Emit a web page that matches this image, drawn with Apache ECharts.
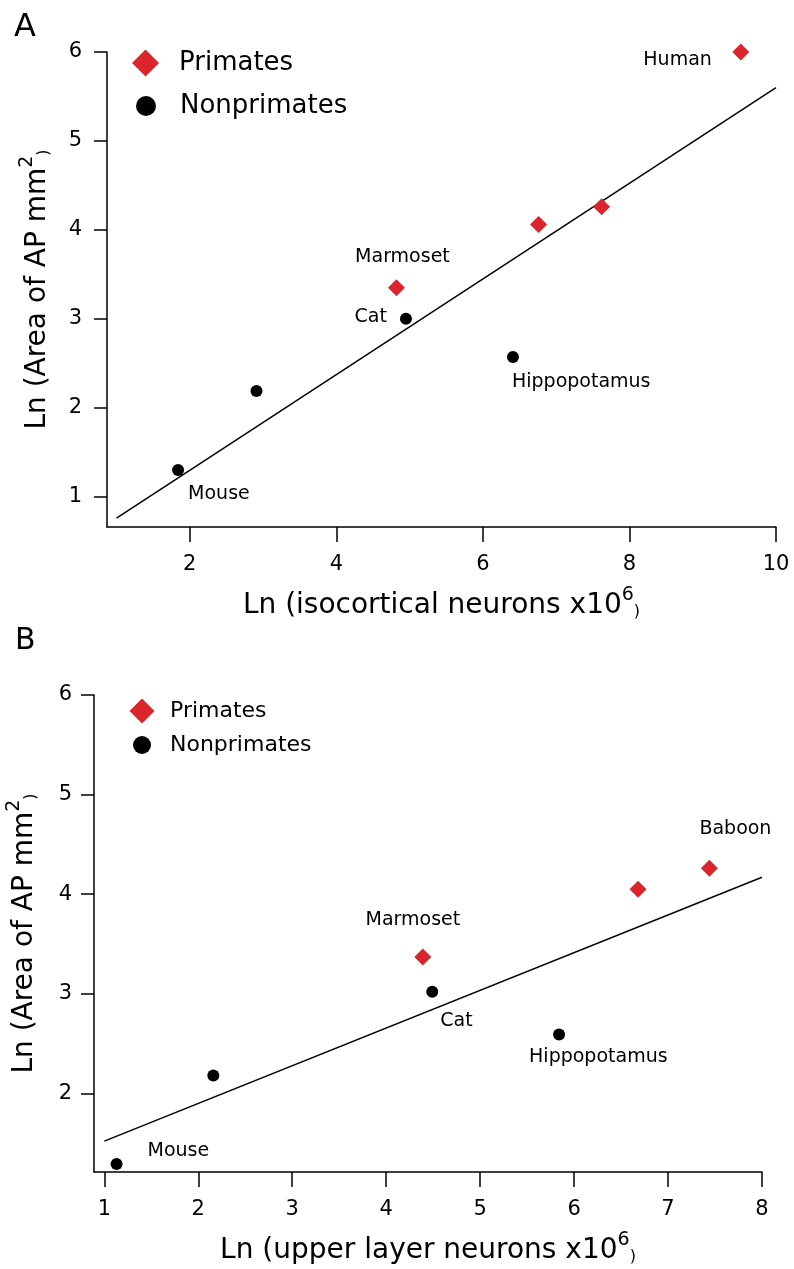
<!DOCTYPE html>
<html>
<head>
<meta charset="utf-8">
<script src="https://cdn.jsdelivr.net/npm/echarts@6/dist/echarts.min.js"></script>
<style>
html,body{margin:0;padding:0;background:#fff}
#chart{width:794px;height:1269px}
</style>
</head>
<body>
<div id="chart"></div>
<script>
'use strict'
// panel A: Ln(isocortical neurons x10^6) vs Ln(area of AP)
const primA = [[9.52, 6.0], [7.62, 4.26], [6.76, 4.06], [4.82, 3.35]];
const primA_names = ['Human', '', '', 'Marmoset'];
const nonA = [[4.95, 3.0], [6.41, 2.57], [2.91, 2.19], [1.84, 1.30]];
const nonA_names = ['Cat', 'Hippopotamus', '', 'Mouse'];
const fitA = [[1, 0.76], [10, 5.6]];
const xTicksA = [2, 4, 6, 8, 10];
const yTicksA = [1, 2, 3, 4, 5, 6];

// panel B: Ln(upper layer neurons x10^6) vs Ln(area of AP)
const primB = [[4.39, 3.37], [6.68, 4.05], [7.44, 4.26]];
const primB_names = ['Marmoset', '', 'Baboon'];
const nonB = [[4.49, 3.02], [5.84, 2.59], [2.16, 2.18], [1.13, 1.29]];
const nonB_names = ['Cat', 'Hippopotamus', '', 'Mouse'];
const fitB = [[1, 1.52], [8, 4.17]];
const xTicksB = [1, 2, 3, 4, 5, 6, 7, 8];
const yTicksB = [2, 3, 4, 5, 6];

const RED = '#d9252b';
const INK = '#000';

// where each point label sits, relative to its point
const labelLayout = {
	'A:Human': {align: 'right', offset: [-29, 8]},
	'A:Marmoset': {align: 'center', offset: [6, -31]},
	'A:Cat': {align: 'right', offset: [-19, -2]},
	'A:Hippopotamus': {align: 'left', offset: [-1, 25]},
	'A:Mouse': {align: 'left', offset: [10, 24]},
	'B:Marmoset': {align: 'center', offset: [-10, -37]},
	'B:Baboon': {align: 'left', offset: [-10, -39]},
	'B:Cat': {align: 'left', offset: [8, 29]},
	'B:Hippopotamus': {align: 'left', offset: [-30, 22]},
	'B:Mouse': {align: 'left', offset: [31, -13]}
};

function points(panel, vals, names) {
	return vals.map((v, i) => {
		let item = {value: v, name: names[i]};
		let lay = labelLayout[panel + ':' + names[i]];
		if (names[i] && lay) {
			item.label = {
				show: true,
				formatter: names[i],
				position: ['50%', '50%'],
				align: lay.align,
				verticalAlign: 'middle',
				offset: lay.offset,
				fontSize: 19,
				color: INK,
				opacity: 1
			};
		}
		return item;
	});
}

const supRich = {
	n: {fontSize: 28, color: INK, verticalAlign: 'bottom'},
	s: {fontSize: 19, color: INK, verticalAlign: 'bottom', padding: [0, 0, 15, 0]},
	p: {fontSize: 16, color: INK, verticalAlign: 'bottom'}
};

function xAxis(idx, min, max, ticks, name) {
	return {
		type: 'value', gridIndex: idx, min: min, max: max,
		name: name, nameLocation: 'middle', nameGap: 59,
		nameTextStyle: {rich: supRich},
		axisLine: {show: true, onZero: false, lineStyle: {color: INK, width: 1.5}},
		axisTick: {show: true, length: 15, customValues: ticks, lineStyle: {color: INK, width: 1.5}},
		axisLabel: {customValues: ticks, margin: 27, fontSize: 21, color: INK},
		splitLine: {show: false}
	};
}
function yAxis(idx, min, max, ticks, margin) {
	return {
		type: 'value', gridIndex: idx, min: min, max: max,
		name: '{n|Ln (Area of AP mm}{s|2}{p|)}', nameLocation: 'middle', nameGap: 55,
		nameTextStyle: {rich: supRich},
		axisLine: {show: true, onZero: false, lineStyle: {color: INK, width: 1.5}},
		axisTick: {show: true, length: 13, customValues: ticks, lineStyle: {color: INK, width: 1.5}},
		axisLabel: {customValues: ticks, margin: margin, fontSize: 21, color: INK},
		splitLine: {show: false}
	};
}
function legend(name, icon, size, left, top, gap, fs) {
	return {
		data: [{name: name, icon: icon}],
		left: left, top: top, padding: 0,
		itemWidth: size, itemHeight: size, itemGap: 0,
		selectedMode: false,
		textStyle: {fontSize: fs, color: INK, padding: [0, 0, 0, gap - 5]}
	};
}

let chart = echarts.init(document.getElementById('chart'), null, {renderer: 'canvas'});
let option = {
	animation: false,
	backgroundColor: '#fff',
	textStyle: {fontFamily: 'DejaVu Sans'},
	title: [
		{text: 'A', left: 14, top: 12, padding: 0, textStyle: {fontSize: 32, fontWeight: 'normal', color: INK}},
		{text: 'B', left: 15, top: 626, padding: 0, textStyle: {fontSize: 30, fontWeight: 'normal', color: INK}}
	],
	legend: [
		legend('Primates', 'diamond', 27, 132, 49.5, 20, 26),
		legend('Nonprimates', 'circle', 20, 136, 93, 24, 26),
		legend('Primates', 'diamond', 25, 129.5, 698.5, 15.5, 22),
		legend('Nonprimates', 'circle', 18, 133, 734, 19, 22)
	],
	grid: [
		{left: 107, top: 52, right: 18, bottom: 742, outerBoundsMode: 'none'},
		{left: 94, top: 695, right: 32, bottom: 97, outerBoundsMode: 'none'}
	],
	xAxis: [
		xAxis(0, 0.87, 10, xTicksA, '{n|Ln (isocortical neurons x10}{s|6}{p|)}'),
		xAxis(1, 0.89, 8, xTicksB, '{n|Ln (upper layer neurons x10}{s|6}{p|)}')
	],
	yAxis: [
		yAxis(0, 0.66, 6, yTicksA, 25),
		yAxis(1, 1.21, 6, yTicksB, 22)
	],
	series: [
		{name: 'fitA', type: 'line', xAxisIndex: 0, yAxisIndex: 0, data: fitA, symbol: 'none', silent: true, z: 1,
			lineStyle: {color: INK, width: 1.5}},
		{name: 'Primates', type: 'scatter', xAxisIndex: 0, yAxisIndex: 0, symbol: 'diamond', symbolSize: 17, z: 3,
			itemStyle: {color: RED, opacity: 1}, data: points('A', primA, primA_names)},
		{name: 'Nonprimates', type: 'scatter', xAxisIndex: 0, yAxisIndex: 0, symbol: 'circle', symbolSize: 12, z: 3,
			itemStyle: {color: INK, opacity: 1}, data: points('A', nonA, nonA_names)},
		{name: 'fitB', type: 'line', xAxisIndex: 1, yAxisIndex: 1, data: fitB, symbol: 'none', silent: true, z: 1,
			lineStyle: {color: INK, width: 1.5}},
		{name: 'Primates', type: 'scatter', xAxisIndex: 1, yAxisIndex: 1, symbol: 'diamond', symbolSize: 17, z: 3,
			itemStyle: {color: RED, opacity: 1}, data: points('B', primB, primB_names)},
		{name: 'Nonprimates', type: 'scatter', xAxisIndex: 1, yAxisIndex: 1, symbol: 'circle', symbolSize: 12, z: 3,
			itemStyle: {color: INK, opacity: 1}, data: points('B', nonB, nonB_names)}
	]
};
chart.setOption(option);
</script>
</body>
</html>
